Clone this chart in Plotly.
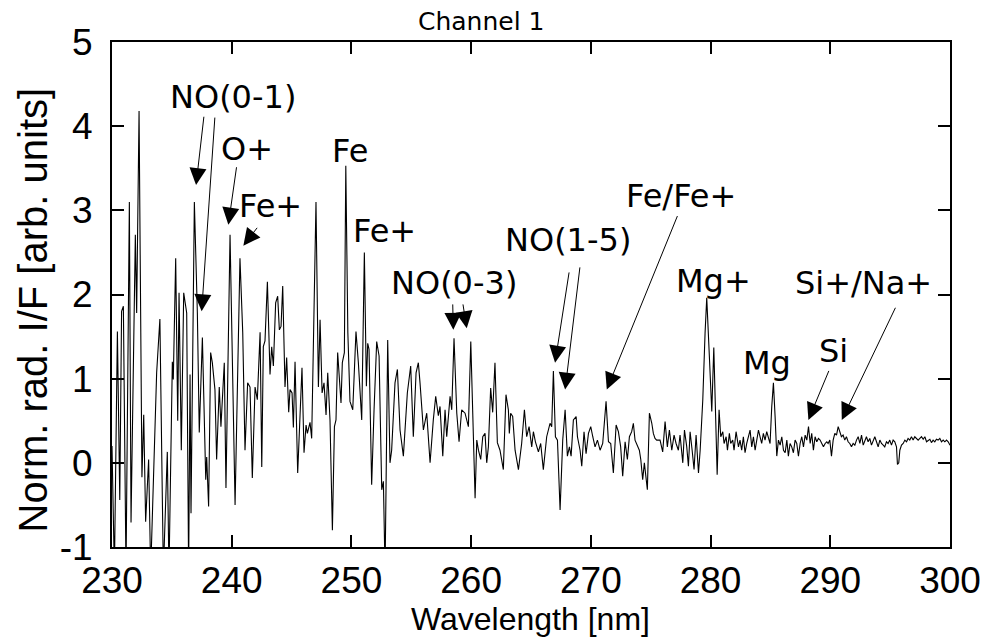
import plotly.graph_objects as go

wavelength = [
    230.00, 230.20, 230.45, 230.65, 230.80, 230.95, 231.17, 231.45, 231.59, 231.95,
    232.06, 232.26, 232.50, 232.65, 232.81, 233.06, 233.23, 233.73, 234.00, 234.29,
    234.62, 234.76, 235.04, 235.12, 235.32, 235.49, 235.60, 235.79, 235.99, 236.24,
    236.40, 236.52, 236.60, 236.88, 237.13, 237.29, 237.55, 237.83, 237.91, 238.07,
    238.24, 238.38, 238.60, 238.74, 238.96, 239.10, 239.38, 239.52, 239.86, 240.28,
    240.69, 240.92, 241.11, 241.33, 241.53, 241.72, 241.95, 242.14, 242.37, 242.51,
    242.64, 242.78, 242.98, 243.20, 243.34, 243.48, 243.67, 243.84, 243.98, 244.12,
    244.26, 244.45, 244.59, 244.76, 244.87, 245.04, 245.15, 245.29, 245.51, 245.71,
    245.87, 246.04, 246.21, 246.32, 246.54, 246.68, 247.04, 247.24, 247.38, 247.55,
    247.71, 247.88, 248.02, 248.21, 248.41, 248.58, 248.71, 248.85, 249.13, 249.24,
    249.41, 249.53, 249.70, 249.88, 250.11, 250.38, 250.58, 250.86, 251.08, 251.25,
    251.36, 251.47, 251.69, 251.89, 252.11, 252.31, 252.53, 252.67, 252.81, 253.03,
    253.22, 253.36, 253.64, 253.84, 254.06, 254.34, 254.48, 254.67, 254.95, 255.17,
    255.40, 255.59, 255.73, 256.01, 256.29, 256.57, 256.84, 257.04, 257.26, 257.40,
    257.63, 257.82, 257.96, 258.24, 258.38, 258.57, 258.80, 258.99, 259.21, 259.49,
    259.77, 259.97, 260.33, 260.47, 260.61, 260.80, 260.97, 261.16, 261.30, 261.44,
    261.63, 261.80, 261.99, 262.19, 262.41, 262.69, 262.91, 263.11, 263.19, 263.30,
    263.47, 263.67, 263.95, 264.22, 264.45, 264.64, 264.84, 265.06, 265.20, 265.37,
    265.62, 265.81, 266.03, 266.31, 266.59, 266.73, 266.87, 267.04, 267.21, 267.43,
    267.65, 267.85, 268.04, 268.21, 268.35, 268.54, 268.77, 268.88, 269.10, 269.24,
    269.43, 269.60, 269.80, 269.99, 270.16, 270.35, 270.55, 270.77, 270.99, 271.27,
    271.47, 271.66, 271.88, 272.11, 272.30, 272.49, 272.66, 272.86, 273.05, 273.22,
    273.41, 273.55, 273.69, 273.83, 274.05, 274.17, 274.33, 274.47, 274.61, 274.72,
    274.89, 275.09, 275.22, 275.36, 275.50, 275.78, 276.00, 276.20, 276.39, 276.56,
    276.76, 276.95, 277.12, 277.31, 277.45, 277.68, 277.82, 278.01, 278.15, 278.29,
    278.46, 278.62, 278.79, 278.99, 279.13, 279.35, 279.54, 279.68, 279.91, 280.10,
    280.27, 280.38, 280.55, 280.71, 280.85, 281.02, 281.13, 281.30, 281.41, 281.57,
    281.68, 281.85, 281.96, 282.13, 282.33, 282.46, 282.60, 282.74, 282.88, 283.02,
    283.16, 283.30, 283.44, 283.58, 283.72, 283.86, 284.00, 284.13, 284.27, 284.41,
    284.55, 284.69, 284.83, 284.97, 285.11, 285.25, 285.39, 285.53, 285.67, 285.81,
    285.95, 286.09, 286.23, 286.37, 286.50, 286.64, 286.78, 286.92, 287.06, 287.20,
    287.34, 287.48, 287.62, 287.76, 287.90, 288.04, 288.18, 288.32, 288.45, 288.59,
    288.73, 288.87, 289.01, 289.15, 289.29, 289.43, 289.57, 289.71, 289.82, 289.96,
    290.10, 290.24, 290.38, 290.52, 290.66, 290.80, 290.93, 291.07, 291.21, 291.35,
    291.49, 291.63, 291.77, 291.91, 292.05, 292.19, 292.33, 292.47, 292.61, 292.75,
    292.88, 293.02, 293.16, 293.30, 293.44, 293.58, 293.72, 293.86, 294.00, 294.14,
    294.28, 294.42, 294.55, 294.69, 294.83, 294.97, 295.11, 295.25, 295.39, 295.53,
    295.61, 295.72, 295.81, 295.95, 296.09, 296.23, 296.37, 296.50, 296.64, 296.78,
    296.92, 297.06, 297.20, 297.34, 297.48, 297.62, 297.76, 297.90, 298.04, 298.18,
    298.32, 298.45, 298.59, 298.73, 298.87, 299.01, 299.15, 299.29, 299.43, 299.57,
    299.71, 299.85, 300.00,
]

intensity = [
    0.20, -1.30, 1.56, -0.44, 1.80, 1.86, -1.30, 3.10, -0.71, 2.71,
    1.78, 4.18, -0.17, 0.57, -0.70, 0.04, -1.30, 1.07, 1.71, -1.30,
    0.13, -1.30, 1.20, 0.99, 2.43, 0.50, 2.02, 0.15, 2.02, 1.78,
    -1.30, 1.05, -0.60, 3.10, 1.78, 0.36, 1.49, -0.20, 0.07, -0.52,
    1.31, 1.19, 0.87, 0.04, 0.90, 0.43, 1.19, -0.30, 2.71, -0.50,
    2.43, 1.55, 0.15, 0.95, 0.90, -0.18, 0.90, 0.75, 1.55, -0.05,
    1.38, 1.45, 2.15, 1.05, 1.38, 1.15, 1.90, 1.98, 1.58, 1.62,
    2.10, 0.90, 1.25, 0.60, 0.87, 0.83, 0.42, 1.20, -0.12, 0.63,
    1.13, 0.12, 0.45, 0.35, 0.48, 0.29, 3.10, 0.90, 1.70, 0.83,
    0.95, 0.57, 1.07, 0.51, -0.80, 0.43, 0.51, 1.31, 0.71, 1.19,
    1.31, 3.53, 1.55, 0.73, 0.63, 1.56, 1.19, 0.51, 2.50, 0.91,
    1.42, 1.35, -0.26, 0.63, 1.44, 1.27, -0.32, -0.22, -1.30, 1.46,
    0.00, 0.15, 0.95, 1.11, 0.39, 0.08, 0.39, 0.83, 1.15, 0.31,
    1.07, 1.19, 0.95, 0.39, 0.59, 0.00, 0.51, 0.79, 0.56, 0.67,
    0.08, 0.63, 0.31, 0.79, 0.63, 1.48, 0.59, 0.25, 0.63, 0.59,
    0.43, 1.44, -0.42, 0.27, 0.15, 0.04, 0.31, 0.35, 0.00, 0.19,
    0.89, 0.60, 1.19, 0.24, 0.15, -0.08, 0.81, 0.63, 0.35, 0.59,
    0.55, 0.15, -0.08, 0.23, 0.63, 0.31, 0.43, 0.19, 0.37, 0.25,
    0.13, 0.23, -0.08, 0.31, 0.47, 0.43, 1.09, 0.31, 0.27, -0.56,
    0.27, 0.63, 0.08, 0.19, 0.08, 0.51, 0.55, 0.31, 0.15, -0.04,
    0.37, 0.11, 0.35, 0.43, 0.31, 0.19, 0.27, 0.15, 0.23, 0.73,
    0.25, 0.23, -0.12, 0.45, 0.37, 0.19, -0.16, 0.25, 0.04, 0.31,
    0.37, 0.47, 0.27, 0.23, 0.15, 0.04, -0.20, 0.00, -0.24, -0.32,
    0.59, 0.47, 0.35, 0.29, 0.27, 0.27, 0.13, 0.49, 0.19, 0.39,
    0.15, 0.33, 0.23, 0.15, 0.33, 0.00, 0.39, 0.19, -0.04, 0.37,
    0.15, -0.08, 0.33, -0.12, 0.15, 0.75, 1.54, 1.96, 1.23, 0.61,
    1.37, 0.71, -0.14, 0.63, 0.31, 0.37, 0.23, 0.31, 0.15, 0.35,
    0.23, 0.27, 0.15, 0.37, 0.19, 0.27, 0.15, 0.31, 0.12, 0.23,
    0.33, 0.39, 0.19, 0.31, 0.15, 0.27, 0.39, 0.31, 0.23, 0.35,
    0.27, 0.37, 0.31, 0.23, 0.67, 0.95, 0.55, 0.08, 0.27, 0.21,
    0.31, 0.15, 0.12, 0.27, 0.08, 0.23, 0.19, 0.12, 0.27, 0.23,
    0.08, 0.23, 0.31, 0.19, 0.33, 0.27, 0.43, 0.23, 0.35, 0.15,
    0.31, 0.25, 0.29, 0.27, 0.23, 0.19, 0.23, 0.25, 0.23, 0.27,
    0.08, 0.27, 0.35, 0.33, 0.43, 0.37, 0.31, 0.33, 0.27, 0.31,
    0.25, 0.23, 0.19, 0.23, 0.21, 0.27, 0.31, 0.23, 0.33, 0.21,
    0.27, 0.31, 0.25, 0.29, 0.21, 0.27, 0.31, 0.25, 0.19, 0.27,
    0.23, 0.21, 0.19, 0.25, 0.23, 0.27, 0.21, 0.27, 0.25, 0.19,
    -0.02, 0.00, 0.15, 0.21, 0.23, 0.27, 0.25, 0.29, 0.27, 0.31,
    0.27, 0.31, 0.29, 0.27, 0.29, 0.31, 0.28, 0.31, 0.25, 0.27,
    0.28, 0.24, 0.27, 0.25, 0.28, 0.27, 0.29, 0.25, 0.27, 0.25,
    0.27, 0.25, 0.21,
]

x_ticks = [230, 240, 250, 260, 270, 280, 290, 300]
x_tick_labels = ["230", "240", "250", "260", "270", "280", "290", "300"]
y_ticks = [-1, 0, 1, 2, 3, 4, 5]
y_tick_labels = ["-1", "0", "1", "2", "3", "4", "5"]

# line labels: text, x (nm), y (intensity)
label_text = ["NO(0-1)", "O+", "Fe+", "Fe", "Fe+", "NO(0-3)", "NO(1-5)",
              "Fe/Fe+", "Mg+", "Mg", "Si", "Si+/Na+"]
label_x = [240.1, 241.25, 243.2, 249.88, 252.8, 258.57, 268.1,
           277.53, 280.23, 284.69, 290.26, 292.77]
label_y = [4.35, 3.73, 3.05, 3.71, 2.75, 2.14, 2.65,
           3.17, 2.16, 1.19, 1.33, 2.14]

# arrows: tail (x, y) -> head (x, y)
arrow_tail_x = [237.69, 238.60, 240.42, 242.22, 258.46, 259.30, 268.20, 269.10, 277.28, 289.93, 295.50]
arrow_tail_y = [4.13, 4.12, 3.53, 2.81, 1.90, 1.90, 2.28, 2.34, 2.95, 1.11, 1.86]
arrow_head_x = [237.02, 237.49, 239.72, 240.97, 258.51, 259.63, 267.01, 267.85, 271.33, 288.17, 290.96]
arrow_head_y = [3.30, 1.80, 2.83, 2.58, 1.58, 1.60, 1.19, 0.87, 0.87, 0.51, 0.51]

fig = go.Figure()
fig.add_trace(go.Scatter(x=wavelength, y=intensity, mode="lines",
                         line=dict(color="black", width=1.1), showlegend=False))

annotations = []
for t, x, y in zip(label_text, label_x, label_y):
    annotations.append(dict(x=x, y=y, xref="x", yref="y", text=t, showarrow=False,
                            xanchor="center", yanchor="middle",
                            font=dict(family="DejaVu Sans", size=32, color="black")))
for tx, ty, hx, hy in zip(arrow_tail_x, arrow_tail_y, arrow_head_x, arrow_head_y):
    annotations.append(dict(x=hx, y=hy, ax=tx, ay=ty, xref="x", yref="y", axref="x", ayref="y",
                            text="", showarrow=True, arrowhead=2, arrowsize=3.4, arrowwidth=1,
                            arrowcolor="black", standoff=0, startstandoff=0))

annotations.append(dict(x=0.4415, y=1.04, xref="paper", yref="paper", text="Channel 1",
                        xanchor="center", yanchor="middle", showarrow=False,
                        font=dict(family="DejaVu Sans", size=25, color="black")))
annotations.append(dict(x=-0.0945, y=0.47, xref="paper", yref="paper",
                        text="Norm. rad. I/F [arb. units]", textangle=-90, showarrow=False,
                        xanchor="center", yanchor="middle",
                        font=dict(family="Liberation Sans", size=40, color="black")))
annotations.append(dict(x=0.499, y=-0.143, xref="paper", yref="paper", text="Wavelength [nm]",
                        xanchor="center", yanchor="middle", showarrow=False,
                        font=dict(family="Liberation Sans", size=32, color="black")))

axis_common = dict(showgrid=False, zeroline=False, showline=True, linecolor="black", linewidth=2,
                   mirror="allticks", ticks="inside", ticklen=12, tickwidth=1.5, tickcolor="black",
                   tickfont=dict(family="Liberation Sans", size=37, color="black"))

# the page body adds an 8 px offset; margins compensate so the plot box sits at 112..950 x 42..547
fig.update_layout(
    width=990, height=641,
    margin=dict(l=104, r=48, t=34, b=102),
    paper_bgcolor="white", plot_bgcolor="white",
    xaxis=dict(range=[230, 300], tickvals=x_ticks, ticktext=x_tick_labels,
               ticklabelstandoff=0, **axis_common),
    yaxis=dict(range=[-1, 5], tickvals=y_ticks, ticktext=y_tick_labels,
               ticklabelstandoff=10, **axis_common),
    annotations=annotations,
)

fig.write_html("out.html")
